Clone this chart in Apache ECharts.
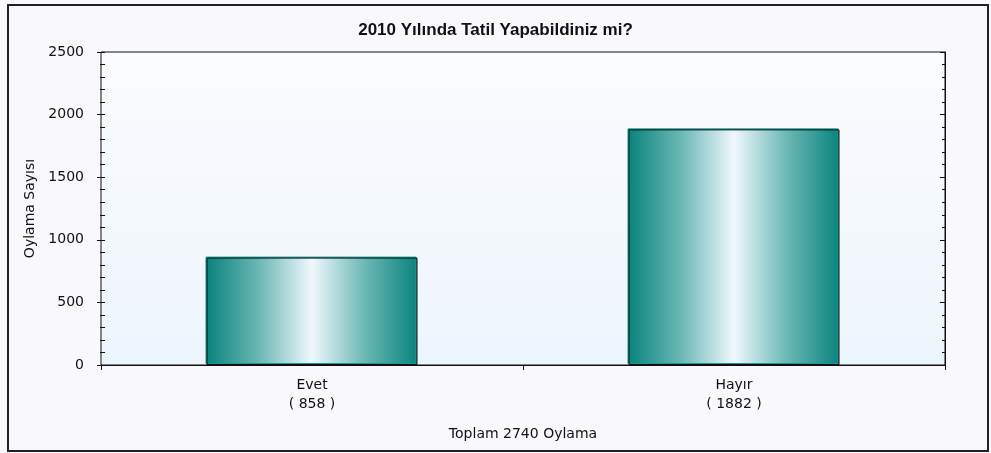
<!DOCTYPE html>
<html>
<head>
<meta charset="utf-8">
<script src="https://cdn.jsdelivr.net/npm/echarts@6/dist/echarts.min.js"></script>
<style>
  html, body { margin: 0; padding: 0; background: #f9f9fd; }
  #chart { width: 991px; height: 453px; }
</style>
</head>
<body>
<div id="chart"></div>
<script>
// anket verileri
var categories = ["Evet", "Hayır"];
var votes = [858, 1882];
var yMin = 0, yMax = 2500, yStep = 500;
var titleText = "2010 Yılında Tatil Yapabildiniz mi?";
var yName = "Oylama Sayısı";

var total = votes.reduce(function (a, b) { return a + b; }, 0);
var font = "DejaVu Sans";

var myChart = echarts.init(document.getElementById("chart"));

var barFill = new echarts.graphic.LinearGradient(0, 0, 1, 0, [
  { offset: 0, color: "#0a837d" },
  { offset: 0.25, color: "#6bb8b5" },
  { offset: 0.5, color: "#eff8fc" },
  { offset: 0.75, color: "#6bb8b5" },
  { offset: 1, color: "#0a837d" }
]);

var option = {
  backgroundColor: "#f9f9fd",
  animation: false,
  title: {
    text: titleText, left: "center", top: 17,
    textStyle: { fontFamily: "Liberation Sans", fontWeight: "bold", fontSize: 17, color: "#111" }
  },
  grid: {
    left: 101, right: 46, top: 52, bottom: 88, show: true,
    borderWidth: 1, borderColor: "#111",
    backgroundColor: new echarts.graphic.LinearGradient(0, 0, 0, 1, [
      { offset: 0, color: "#fbfcfe" },
      { offset: 1, color: "#edf5fc" }
    ])
  },
  xAxis: [
    {
      type: "category", data: categories, position: "bottom",
      axisLine: { show: true, lineStyle: { color: "#111" } },
      axisTick: { show: true, length: 5, lineStyle: { color: "#111" } },
      axisLabel: {
        fontFamily: font, fontSize: 14, color: "#111", margin: 11, lineHeight: 19,
        formatter: function (v, i) { return v + "\n( " + votes[i] + " )"; }
      },
      name: "Toplam " + total + " Oylama",
      nameLocation: "middle", nameGap: 62,
      nameTextStyle: { fontFamily: font, fontSize: 14, color: "#111" }
    },
    {
      type: "category", data: categories, position: "top",
      axisLine: { show: true, lineStyle: { color: "#111" } },
      axisTick: { show: true, inside: true, length: 5, lineStyle: { color: "#111" } },
      axisLabel: { show: false }
    }
  ],
  yAxis: [
    {
      // sol eksen: çizgi grid kenarından, çentikler eksenin iki yanına taşar
      type: "value", position: "left", offset: -4,
      min: yMin, max: yMax, interval: yStep,
      axisLine: { show: false },
      axisTick: { show: true, length: 8, lineStyle: { color: "#111" } },
      minorTick: { show: true, splitNumber: 5, length: 5, lineStyle: { color: "#111" } },
      axisLabel: {
        fontFamily: font, fontSize: 14, color: "#111", margin: 21,
        formatter: function (v) { return String(v); }
      },
      splitLine: { show: false },
      name: yName, nameLocation: "middle", nameGap: 67,
      nameTextStyle: { fontFamily: font, fontSize: 14, color: "#111" }
    },
    {
      type: "value", position: "right",
      min: yMin, max: yMax, interval: yStep,
      axisLine: { show: true, lineStyle: { color: "#111" } },
      axisTick: { show: true, inside: true, length: 5, lineStyle: { color: "#111" } },
      minorTick: { show: true, splitNumber: 5, length: 3, lineStyle: { color: "#111" } },
      axisLabel: { show: false },
      splitLine: { show: false }
    }
  ],
  series: [
    {
      type: "bar", data: votes, barWidth: "50%",
      itemStyle: {
        color: barFill, borderColor: "#111", borderWidth: 1,
        shadowColor: "#1a9a92", shadowOffsetX: -1, shadowOffsetY: -1, shadowBlur: 0
      }
    }
  ],
  graphic: [
    {
      type: "rect", silent: true, z: 100,
      shape: { x: 8, y: 5, width: 980, height: 446 },
      style: { fill: null, stroke: "#222", lineWidth: 2 }
    }
  ]
};

option && myChart.setOption(option);
</script>
</body>
</html>
